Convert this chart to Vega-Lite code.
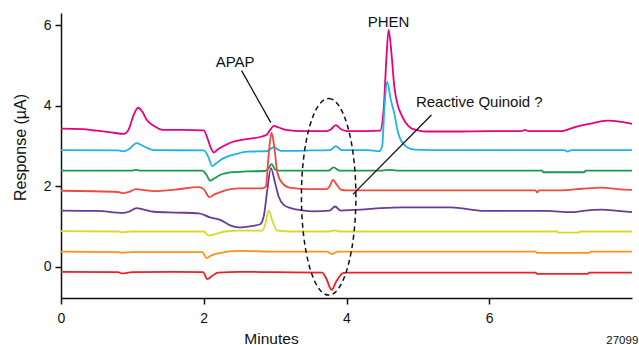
{
  "$schema": "https://vega.github.io/schema/vega-lite/v6.json",
  "width": 571,
  "height": 285,
  "autosize": {"type": "none"},
  "padding": {"left": 61, "top": 13, "right": 7, "bottom": 47},
  "background": "white",
  "config": {
    "view": {"stroke": null},
    "font": "Liberation Sans",
    "axis": {"labelFont": "Liberation Sans", "titleFont": "Liberation Sans", "labelColor": "#111", "titleColor": "#111", "titleFontWeight": "normal", "domainColor": "#111", "tickColor": "#111", "domainWidth": 1.5, "tickWidth": 1.5, "tickSize": 6, "labelFontSize": 14, "titleFontSize": 15.5, "grid": false}
  },
  "datasets": {
    "traces": [
      {"s": "1", "t": 0.0, "v": 3.43}, {"s": "1", "t": 0.3, "v": 3.42}, {"s": "1", "t": 0.5, "v": 3.38}, {"s": "1", "t": 0.7, "v": 3.34}, {"s": "1", "t": 0.88, "v": 3.3}, {"s": "1", "t": 0.95, "v": 3.42}, {"s": "1", "t": 1.02, "v": 3.78}, {"s": "1", "t": 1.08, "v": 3.95}, {"s": "1", "t": 1.14, "v": 3.85}, {"s": "1", "t": 1.2, "v": 3.65}, {"s": "1", "t": 1.3, "v": 3.5}, {"s": "1", "t": 1.43, "v": 3.4}, {"s": "1", "t": 1.7, "v": 3.4}, {"s": "1", "t": 2.0, "v": 3.39}, {"s": "1", "t": 2.05, "v": 3.2}, {"s": "1", "t": 2.1, "v": 2.95}, {"s": "1", "t": 2.14, "v": 2.84}, {"s": "1", "t": 2.2, "v": 2.92}, {"s": "1", "t": 2.3, "v": 3.02}, {"s": "1", "t": 2.4, "v": 3.1}, {"s": "1", "t": 2.6, "v": 3.17}, {"s": "1", "t": 2.8, "v": 3.23}, {"s": "1", "t": 2.88, "v": 3.28}, {"s": "1", "t": 2.93, "v": 3.4}, {"s": "1", "t": 2.98, "v": 3.5}, {"s": "1", "t": 3.05, "v": 3.46}, {"s": "1", "t": 3.15, "v": 3.4}, {"s": "1", "t": 3.4, "v": 3.37}, {"s": "1", "t": 3.72, "v": 3.37}, {"s": "1", "t": 3.78, "v": 3.41}, {"s": "1", "t": 3.85, "v": 3.52}, {"s": "1", "t": 3.92, "v": 3.42}, {"s": "1", "t": 4.0, "v": 3.37}, {"s": "1", "t": 4.3, "v": 3.37}, {"s": "1", "t": 4.47, "v": 3.38}, {"s": "1", "t": 4.52, "v": 3.9}, {"s": "1", "t": 4.56, "v": 5.2}, {"s": "1", "t": 4.59, "v": 5.88}, {"s": "1", "t": 4.63, "v": 5.3}, {"s": "1", "t": 4.67, "v": 4.47}, {"s": "1", "t": 4.72, "v": 4.0}, {"s": "1", "t": 4.76, "v": 3.81}, {"s": "1", "t": 4.83, "v": 3.58}, {"s": "1", "t": 4.9, "v": 3.45}, {"s": "1", "t": 5.0, "v": 3.39}, {"s": "1", "t": 5.14, "v": 3.36}, {"s": "1", "t": 5.5, "v": 3.36}, {"s": "1", "t": 6.0, "v": 3.37}, {"s": "1", "t": 6.45, "v": 3.37}, {"s": "1", "t": 6.5, "v": 3.4}, {"s": "1", "t": 6.55, "v": 3.37}, {"s": "1", "t": 7.0, "v": 3.37}, {"s": "1", "t": 7.2, "v": 3.47}, {"s": "1", "t": 7.4, "v": 3.55}, {"s": "1", "t": 7.66, "v": 3.63}, {"s": "1", "t": 7.85, "v": 3.6}, {"s": "1", "t": 8.0, "v": 3.55},

      {"s": "2", "t": 0.0, "v": 2.9}, {"s": "2", "t": 0.8, "v": 2.89}, {"s": "2", "t": 0.88, "v": 2.87}, {"s": "2", "t": 0.95, "v": 2.92}, {"s": "2", "t": 1.06, "v": 3.07}, {"s": "2", "t": 1.15, "v": 3.0}, {"s": "2", "t": 1.3, "v": 2.9}, {"s": "2", "t": 2.0, "v": 2.89}, {"s": "2", "t": 2.06, "v": 2.75}, {"s": "2", "t": 2.12, "v": 2.5}, {"s": "2", "t": 2.18, "v": 2.58}, {"s": "2", "t": 2.28, "v": 2.7}, {"s": "2", "t": 2.45, "v": 2.8}, {"s": "2", "t": 2.61, "v": 2.86}, {"s": "2", "t": 2.88, "v": 2.87}, {"s": "2", "t": 2.98, "v": 2.97}, {"s": "2", "t": 3.08, "v": 2.88}, {"s": "2", "t": 3.5, "v": 2.89}, {"s": "2", "t": 3.77, "v": 2.9}, {"s": "2", "t": 3.85, "v": 3.0}, {"s": "2", "t": 3.93, "v": 2.9}, {"s": "2", "t": 4.3, "v": 2.9}, {"s": "2", "t": 4.46, "v": 2.87}, {"s": "2", "t": 4.5, "v": 3.0}, {"s": "2", "t": 4.53, "v": 3.9}, {"s": "2", "t": 4.57, "v": 4.6}, {"s": "2", "t": 4.62, "v": 4.15}, {"s": "2", "t": 4.67, "v": 3.81}, {"s": "2", "t": 4.72, "v": 3.35}, {"s": "2", "t": 4.76, "v": 3.15}, {"s": "2", "t": 4.85, "v": 2.97}, {"s": "2", "t": 4.95, "v": 2.91}, {"s": "2", "t": 5.2, "v": 2.9}, {"s": "2", "t": 7.05, "v": 2.9}, {"s": "2", "t": 7.1, "v": 2.86}, {"s": "2", "t": 7.15, "v": 2.9}, {"s": "2", "t": 8.0, "v": 2.9},

      {"s": "3", "t": 0.0, "v": 2.39}, {"s": "3", "t": 1.0, "v": 2.39}, {"s": "3", "t": 1.05, "v": 2.41}, {"s": "3", "t": 1.1, "v": 2.39}, {"s": "3", "t": 1.98, "v": 2.39}, {"s": "3", "t": 2.04, "v": 2.28}, {"s": "3", "t": 2.09, "v": 2.14}, {"s": "3", "t": 2.15, "v": 2.2}, {"s": "3", "t": 2.23, "v": 2.28}, {"s": "3", "t": 2.4, "v": 2.35}, {"s": "3", "t": 2.6, "v": 2.37}, {"s": "3", "t": 2.86, "v": 2.38}, {"s": "3", "t": 2.91, "v": 2.46}, {"s": "3", "t": 2.95, "v": 2.55}, {"s": "3", "t": 3.0, "v": 2.42}, {"s": "3", "t": 3.05, "v": 2.39}, {"s": "3", "t": 3.75, "v": 2.39}, {"s": "3", "t": 3.82, "v": 2.47}, {"s": "3", "t": 3.9, "v": 2.39}, {"s": "3", "t": 4.5, "v": 2.39}, {"s": "3", "t": 4.6, "v": 2.41}, {"s": "3", "t": 4.7, "v": 2.39}, {"s": "3", "t": 6.74, "v": 2.39}, {"s": "3", "t": 6.76, "v": 2.35}, {"s": "3", "t": 7.33, "v": 2.35}, {"s": "3", "t": 7.35, "v": 2.39}, {"s": "3", "t": 8.0, "v": 2.39},

      {"s": "4", "t": 0.0, "v": 1.89}, {"s": "4", "t": 0.8, "v": 1.86}, {"s": "4", "t": 0.87, "v": 1.83}, {"s": "4", "t": 0.95, "v": 1.86}, {"s": "4", "t": 1.05, "v": 1.93}, {"s": "4", "t": 1.15, "v": 1.91}, {"s": "4", "t": 1.3, "v": 1.88}, {"s": "4", "t": 1.6, "v": 1.92}, {"s": "4", "t": 1.93, "v": 1.98}, {"s": "4", "t": 2.0, "v": 1.93}, {"s": "4", "t": 2.08, "v": 1.73}, {"s": "4", "t": 2.15, "v": 1.8}, {"s": "4", "t": 2.25, "v": 1.87}, {"s": "4", "t": 2.5, "v": 1.95}, {"s": "4", "t": 2.82, "v": 1.95}, {"s": "4", "t": 2.87, "v": 2.0}, {"s": "4", "t": 2.91, "v": 2.8}, {"s": "4", "t": 2.95, "v": 3.33}, {"s": "4", "t": 2.99, "v": 2.95}, {"s": "4", "t": 3.03, "v": 2.35}, {"s": "4", "t": 3.1, "v": 2.08}, {"s": "4", "t": 3.2, "v": 1.97}, {"s": "4", "t": 3.5, "v": 1.93}, {"s": "4", "t": 3.72, "v": 1.93}, {"s": "4", "t": 3.77, "v": 2.02}, {"s": "4", "t": 3.81, "v": 2.16}, {"s": "4", "t": 3.86, "v": 2.05}, {"s": "4", "t": 3.92, "v": 1.92}, {"s": "4", "t": 4.0, "v": 1.9}, {"s": "4", "t": 6.65, "v": 1.9}, {"s": "4", "t": 6.67, "v": 1.85}, {"s": "4", "t": 6.7, "v": 1.9}, {"s": "4", "t": 7.0, "v": 1.9}, {"s": "4", "t": 7.3, "v": 1.94}, {"s": "4", "t": 7.57, "v": 1.97}, {"s": "4", "t": 7.8, "v": 1.93}, {"s": "4", "t": 8.0, "v": 1.91},

      {"s": "5", "t": 0.0, "v": 1.4}, {"s": "5", "t": 0.5, "v": 1.39}, {"s": "5", "t": 0.87, "v": 1.34}, {"s": "5", "t": 0.95, "v": 1.37}, {"s": "5", "t": 1.06, "v": 1.46}, {"s": "5", "t": 1.15, "v": 1.43}, {"s": "5", "t": 1.3, "v": 1.37}, {"s": "5", "t": 1.6, "v": 1.35}, {"s": "5", "t": 1.93, "v": 1.33}, {"s": "5", "t": 2.09, "v": 1.23}, {"s": "5", "t": 2.23, "v": 1.17}, {"s": "5", "t": 2.37, "v": 1.03}, {"s": "5", "t": 2.49, "v": 0.98}, {"s": "5", "t": 2.61, "v": 1.0}, {"s": "5", "t": 2.79, "v": 1.06}, {"s": "5", "t": 2.84, "v": 1.25}, {"s": "5", "t": 2.89, "v": 1.9}, {"s": "5", "t": 2.94, "v": 2.45}, {"s": "5", "t": 3.0, "v": 2.08}, {"s": "5", "t": 3.05, "v": 1.74}, {"s": "5", "t": 3.12, "v": 1.54}, {"s": "5", "t": 3.22, "v": 1.46}, {"s": "5", "t": 3.36, "v": 1.41}, {"s": "5", "t": 3.54, "v": 1.38}, {"s": "5", "t": 3.76, "v": 1.4}, {"s": "5", "t": 3.84, "v": 1.5}, {"s": "5", "t": 3.92, "v": 1.4}, {"s": "5", "t": 4.2, "v": 1.42}, {"s": "5", "t": 4.48, "v": 1.46}, {"s": "5", "t": 4.8, "v": 1.48}, {"s": "5", "t": 5.46, "v": 1.48}, {"s": "5", "t": 5.93, "v": 1.39}, {"s": "5", "t": 6.8, "v": 1.39}, {"s": "5", "t": 7.15, "v": 1.36}, {"s": "5", "t": 7.35, "v": 1.4}, {"s": "5", "t": 7.57, "v": 1.42}, {"s": "5", "t": 7.8, "v": 1.39}, {"s": "5", "t": 8.0, "v": 1.36},

      {"s": "6", "t": 0.0, "v": 0.89}, {"s": "6", "t": 0.8, "v": 0.88}, {"s": "6", "t": 0.85, "v": 0.86}, {"s": "6", "t": 1.0, "v": 0.88}, {"s": "6", "t": 2.0, "v": 0.88}, {"s": "6", "t": 2.07, "v": 0.78}, {"s": "6", "t": 2.15, "v": 0.81}, {"s": "6", "t": 2.3, "v": 0.88}, {"s": "6", "t": 2.5, "v": 0.9}, {"s": "6", "t": 2.82, "v": 0.9}, {"s": "6", "t": 2.86, "v": 1.05}, {"s": "6", "t": 2.91, "v": 1.4}, {"s": "6", "t": 2.96, "v": 1.15}, {"s": "6", "t": 3.03, "v": 0.9}, {"s": "6", "t": 3.2, "v": 0.88}, {"s": "6", "t": 3.77, "v": 0.88}, {"s": "6", "t": 3.83, "v": 0.91}, {"s": "6", "t": 3.9, "v": 0.88}, {"s": "6", "t": 6.95, "v": 0.88}, {"s": "6", "t": 6.97, "v": 0.85}, {"s": "6", "t": 7.25, "v": 0.85}, {"s": "6", "t": 7.27, "v": 0.88}, {"s": "6", "t": 8.0, "v": 0.88},

      {"s": "7", "t": 0.0, "v": 0.38}, {"s": "7", "t": 0.8, "v": 0.37}, {"s": "7", "t": 0.85, "v": 0.35}, {"s": "7", "t": 1.0, "v": 0.37}, {"s": "7", "t": 1.98, "v": 0.37}, {"s": "7", "t": 2.04, "v": 0.22}, {"s": "7", "t": 2.1, "v": 0.28}, {"s": "7", "t": 2.2, "v": 0.34}, {"s": "7", "t": 2.51, "v": 0.4}, {"s": "7", "t": 3.0, "v": 0.38}, {"s": "7", "t": 3.72, "v": 0.38}, {"s": "7", "t": 3.8, "v": 0.32}, {"s": "7", "t": 3.88, "v": 0.38}, {"s": "7", "t": 6.65, "v": 0.38}, {"s": "7", "t": 6.67, "v": 0.35}, {"s": "7", "t": 7.4, "v": 0.35}, {"s": "7", "t": 7.42, "v": 0.38}, {"s": "7", "t": 8.0, "v": 0.38},

      {"s": "8", "t": 0.0, "v": -0.12}, {"s": "8", "t": 0.8, "v": -0.13}, {"s": "8", "t": 0.85, "v": -0.16}, {"s": "8", "t": 1.0, "v": -0.13}, {"s": "8", "t": 1.6, "v": -0.12}, {"s": "8", "t": 1.99, "v": -0.13}, {"s": "8", "t": 2.05, "v": -0.3}, {"s": "8", "t": 2.12, "v": -0.22}, {"s": "8", "t": 2.2, "v": -0.14}, {"s": "8", "t": 2.5, "v": -0.12}, {"s": "8", "t": 3.0, "v": -0.13}, {"s": "8", "t": 3.66, "v": -0.14}, {"s": "8", "t": 3.72, "v": -0.3}, {"s": "8", "t": 3.79, "v": -0.57}, {"s": "8", "t": 3.86, "v": -0.35}, {"s": "8", "t": 3.95, "v": -0.15}, {"s": "8", "t": 4.0, "v": -0.14}, {"s": "8", "t": 6.65, "v": -0.14}, {"s": "8", "t": 6.67, "v": -0.17}, {"s": "8", "t": 7.38, "v": -0.17}, {"s": "8", "t": 7.4, "v": -0.14}, {"s": "8", "t": 8.0, "v": -0.14}
    ],
    "arrows": [
      {"t": 2.53, "v": 4.87, "t2": 2.94, "v2": 3.58},
      {"t": 5.19, "v": 3.77, "t2": 4.09, "v2": 1.8}
    ],
    "labels": [
      {"t": 2.44, "v": 5.09, "label": "APAP"},
      {"t": 4.59, "v": 6.08, "label": "PHEN"},
      {"t": 5.86, "v": 4.08, "label": "Reactive Quinoid ?"}
    ],
    "ellipse": [{"t": 3.75, "v": 1.74}],
    "code": [{"t": 7.64, "v": -1.9, "label": "27099"}]
  },
  "encoding": {
    "x": {"field": "t", "type": "quantitative", "scale": {"domain": [0, 8], "nice": false, "zero": false},
          "axis": {"values": [0, 2, 4, 6], "title": "Minutes", "titleX": 210, "titleY": 45, "titleBaseline": "alphabetic", "labelPadding": 7, "labelFlush": false}},
    "y": {"field": "v", "type": "quantitative", "scale": {"domain": [-0.77, 6.3], "nice": false, "zero": false},
          "axis": {"values": [0, 2, 4, 6], "title": "Response (µA)", "titleX": -41, "titleY": 134, "titleAngle": 270, "titleBaseline": "middle", "titleAlign": "center", "titleFontSize": 16, "labelPadding": 4}}
  },
  "layer": [
    {
      "data": {"name": "traces"},
      "mark": {"type": "line", "strokeWidth": 1.8, "interpolate": "monotone"},
      "encoding": {
        "color": {"field": "s", "type": "nominal", "legend": null,
                  "scale": {"domain": ["1", "2", "3", "4", "5", "6", "7", "8"],
                            "range": ["#e6007e", "#1eb4ea", "#1b9a4b", "#f04a3c", "#6a3b98", "#d5dc26", "#f7931e", "#ee2024"]}},
        "order": {"field": "t", "type": "quantitative"}
      }
    },
    {
      "data": {"name": "arrows"},
      "mark": {"type": "rule", "color": "#111", "strokeWidth": 1.3},
      "encoding": {
        "x2": {"field": "t2"},
        "y2": {"field": "v2"}
      }
    },
    {
      "data": {"name": "labels"},
      "mark": {"type": "text", "fontSize": 15, "font": "Liberation Sans", "color": "#111", "align": "center", "baseline": "middle"},
      "encoding": {
        "text": {"field": "label"}
      }
    },
    {
      "data": {"name": "ellipse"},
      "mark": {"type": "point", "filled": false, "opacity": 1, "stroke": "#111", "strokeWidth": 1.5, "strokeDash": [5, 3.5],
               "shape": "M 0 -1 A 0.277 1 0 0 1 0 1 A 0.277 1 0 0 1 0 -1 Z", "size": 38650},
      "encoding": {}
    },
    {
      "data": {"name": "code"},
      "mark": {"type": "text", "fontSize": 11.5, "font": "Liberation Sans", "color": "#111", "align": "left", "baseline": "alphabetic"},
      "encoding": {
        "text": {"field": "label"}
      }
    }
  ]
}
